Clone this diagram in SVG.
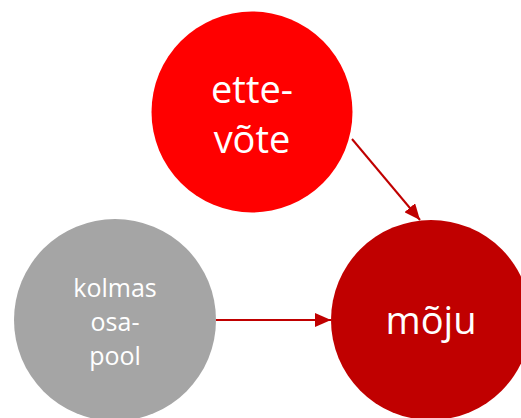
<svg xmlns="http://www.w3.org/2000/svg" width="521" height="418" viewBox="0 0 521 418">
<style>
.lbl{fill:#fff;font-family:"Open Sans","Noto Sans","DejaVu Sans",sans-serif;text-anchor:middle}
.big{font-size:38px}
.small{font-size:25px}
.conn{stroke:#C00000;stroke-width:2;fill:none}
</style>
<defs>
<marker id="ah" markerWidth="8" markerHeight="7" refX="8" refY="3.5" orient="auto" markerUnits="strokeWidth">
<path d="M0,0 L8,3.5 L0,7 Z" fill="#C00000"/>
</marker>
</defs>
<rect width="521" height="418" fill="#fff"/>
<g id="connectors">
<line class="conn" x1="352" y1="139" x2="420" y2="220" marker-end="url(#ah)"/>
<line class="conn" x1="216" y1="320" x2="331" y2="320" marker-end="url(#ah)"/>
</g>
<g id="ettevote">
<circle cx="252" cy="112" r="100.5" fill="#FF0000"/>
<text class="lbl big" x="252" y="103">ette-</text>
<text class="lbl big" x="252" y="153">võte</text>
</g>
<g id="kolmas">
<circle cx="115" cy="320" r="101" fill="#A5A5A5"/>
<text class="lbl small" x="115" y="297">kolmas</text>
<text class="lbl small" x="115" y="331">osa-</text>
<text class="lbl small" x="115" y="365">pool</text>
</g>
<g id="moju">
<circle cx="431" cy="320" r="100" fill="#C00000"/>
<text class="lbl big" x="431" y="334">mõju</text>
</g>
</svg>
